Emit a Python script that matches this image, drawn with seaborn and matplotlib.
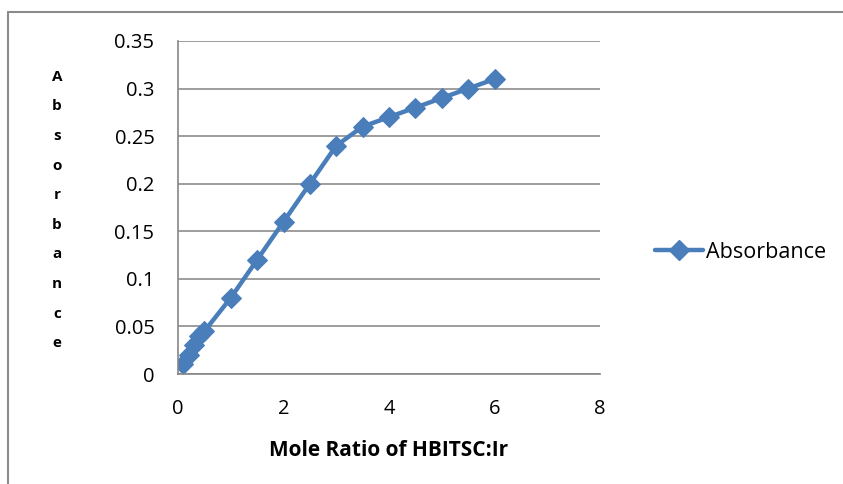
import matplotlib
matplotlib.use("Agg")
import matplotlib.pyplot as plt
import seaborn as sns
import pandas as pd
from matplotlib.lines import Line2D

ratio = [0.1, 0.2, 0.3, 0.4, 0.5, 1.0, 1.5, 2.0, 2.5, 3.0, 3.5, 4.0, 4.5, 5.0, 5.5, 6.0]
absorbance = [0.01, 0.02, 0.03, 0.04, 0.045, 0.08, 0.12, 0.16, 0.20, 0.24, 0.26, 0.27, 0.28, 0.29, 0.30, 0.31]
x_ticks = [0, 2, 4, 6, 8]
y_ticks = [0, 0.05, 0.1, 0.15, 0.2, 0.25, 0.3, 0.35]
y_tick_labels = ["0", "0.05", "0.1", "0.15", "0.2", "0.25", "0.3", "0.35"]

df = pd.DataFrame({"ratio": ratio, "Absorbance": absorbance})

sns.set_style("white")
plt.rcParams["font.family"] = ["Open Sans", "DejaVu Sans"]
plt.rcParams["text.color"] = "black"
plt.rcParams["axes.labelcolor"] = "black"
plt.rcParams["xtick.labelcolor"] = "black"
plt.rcParams["ytick.labelcolor"] = "black"

W, H = 843, 484
fig = plt.figure(figsize=(W / 100, H / 100), dpi=100)
ax = fig.add_axes([178 / W, 1 - 374 / H, (600 - 178) / W, (374 - 41) / H])

blue = "#4A7EBB"
sns.lineplot(data=df, x="ratio", y="Absorbance", ax=ax, color=blue, linewidth=3.2,
             marker="D", markersize=10, markeredgecolor=blue, markerfacecolor=blue)

ax.set_xlim(0, 8)
ax.set_ylim(0, 0.35)
ax.set_xticks(x_ticks)
ax.set_yticks(y_ticks)
ax.set_yticklabels(y_tick_labels)
ax.tick_params(axis="both", labelsize=14.5, length=5, color="#868686", direction="out", width=1,
               labelcolor="black")
ax.tick_params(axis="y", pad=12)
ax.tick_params(axis="x", pad=13)
ax.yaxis.grid(True, color="#8c8c8c", linewidth=1.2)
ax.xaxis.grid(False)
for side in ["top", "right"]:
    ax.spines[side].set_visible(False)
for side in ["left", "bottom"]:
    ax.spines[side].set_color("#868686")
    ax.spines[side].set_linewidth(1.2)

ax.set_xlabel("Mole Ratio of HBITSC:Ir", fontsize=15, fontweight="bold", labelpad=15, color="black")
ax.set_ylabel("")
fig.text(57 / W, 1 - 210 / H, "\n".join("Absorbance"), ha="center", va="center",
         fontsize=11, fontweight="bold", linespacing=2.42, color="black")

handle = Line2D([0], [0], color=blue, linewidth=3.2, marker="D", markersize=10)
leg = fig.legend([handle], ["Absorbance"], loc="center left", bbox_to_anchor=(636 / W, 1 - 252 / H),
                 frameon=False, fontsize=15.5, handlelength=2.2, handletextpad=0.15)
for t in leg.get_texts():
    t.set_color("black")

fig.add_artist(Line2D([8 / W, 8 / W], [0, 1 - 12 / H], transform=fig.transFigure,
                      color="#8c8c8c", linewidth=1.5))
fig.add_artist(Line2D([8 / W, 1], [1 - 12 / H, 1 - 12 / H], transform=fig.transFigure,
                      color="#8c8c8c", linewidth=1.5))

fig.savefig("out.png", dpi=100)
